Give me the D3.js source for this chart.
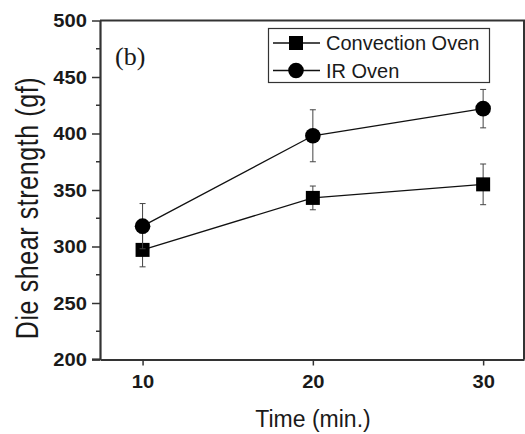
<!DOCTYPE html>
<html>
<head>
<meta charset="utf-8">
<script src="https://cdn.jsdelivr.net/npm/d3@7"></script>
<style>
  body { margin: 0; background: #fff; }
  svg { display: block; }
</style>
</head>
<body>
<div id="chart"></div>
<script>
// Data
const times = [10, 20, 30];
const convection = [297, 343, 355];
const convectionErr = [15, 10.5, 18];
const irOven = [318, 398, 422];
const irOvenErr = [20, 23, 17];
const yTicks = [200, 250, 300, 350, 400, 450, 500];
const yMinorTicks = [225, 275, 325, 375, 425, 475];
const xTicks = [10, 20, 30];

const width = 525, height = 434;
const ink = "#1a1a1a";

const svg = d3.select("#chart").append("svg")
    .attr("width", width)
    .attr("height", height);

const x = d3.scaleLinear().domain([7.5, 32.4]).range([100, 524]);
const y = d3.scaleLinear().domain([200, 500]).range([359.5, 20.5]);

// Frame (top and right edges)
svg.append("path")
    .attr("d", `M${x.range()[0]},${y(500)}H${x.range()[1]}V${y(200)}`)
    .attr("fill", "none")
    .attr("stroke", "#333")
    .attr("stroke-width", 2);

// Y axis
const yAxis = svg.append("g")
    .attr("transform", `translate(${x.range()[0]},0)`)
    .call(d3.axisLeft(y).tickValues(yTicks).tickSize(8).tickSizeOuter(0));

svg.append("g")
    .attr("transform", `translate(${x.range()[0]},0)`)
    .selectAll("line")
    .data(yMinorTicks)
    .enter()
    .append("line")
    .attr("x1", -4).attr("x2", 0)
    .attr("y1", d => y(d)).attr("y2", d => y(d))
    .attr("stroke", "#333")
    .attr("stroke-width", 1.5);

// X axis
const xAxis = svg.append("g")
    .attr("transform", `translate(0,${y(200)})`)
    .call(d3.axisBottom(x).tickValues(xTicks).tickSize(6).tickSizeOuter(0));

// Style both axes the same way
[yAxis, xAxis].forEach(ax => {
  ax.select(".domain").attr("stroke", "#333").attr("stroke-width", 2.2);
  ax.selectAll(".tick line").attr("stroke", "#333").attr("stroke-width", 1.5);
  ax.selectAll(".tick text")
      .attr("fill", ink)
      .style("font-family", "'Liberation Sans', Arial, sans-serif")
      .style("font-size", "18px")
      .style("font-weight", "bold");
});

// Tick labels look a bit wider than normal, stretch them a little
yAxis.selectAll(".tick text")
    .attr("x", -13 / 1.12)
    .attr("dy", "0.36em")
    .attr("transform", "scale(1.12,1)");
xAxis.selectAll(".tick text")
    .attr("y", 0)
    .attr("dy", 0)
    .attr("transform", "translate(0,28.5) scale(1.12,1)");

// Extend the bottom axis a bit to the left like the original
svg.append("line")
    .attr("x1", 92).attr("x2", x.range()[0])
    .attr("y1", y(200)).attr("y2", y(200))
    .attr("stroke", "#333")
    .attr("stroke-width", 2.2);

// Axis titles
svg.append("text")
    .attr("x", 313)
    .attr("y", 427)
    .attr("text-anchor", "middle")
    .attr("fill", ink)
    .style("font-family", "'Liberation Sans', Arial, sans-serif")
    .style("font-size", "23px")
    .text("Time (min.)");

svg.append("text")
    .attr("transform", "translate(38,208) rotate(-90) scale(1,1.25)")
    .attr("text-anchor", "middle")
    .attr("fill", ink)
    .style("font-family", "'Liberation Sans', Arial, sans-serif")
    .style("font-size", "25px")
    .style("letter-spacing", "0.6px")
    .text("Die shear strength (gf)");

// Panel label
svg.append("text")
    .attr("x", 115)
    .attr("y", 65)
    .attr("fill", ink)
    .style("font-family", "'Liberation Serif', 'Times New Roman', serif")
    .style("font-size", "26px")
    .text("(b)");

const series = [
  { name: "Convection Oven", values: convection, err: convectionErr, shape: "square" },
  { name: "IR Oven", values: irOven, err: irOvenErr, shape: "circle" }
];

const line = d3.line()
    .x((d, i) => x(times[i]))
    .y(d => y(d));

// Draw a marker at (cx, cy)
function drawMarker(g, shape, cx, cy) {
  if (shape === "square") {
    g.append("rect")
        .attr("x", cx - 7).attr("y", cy - 7)
        .attr("width", 14).attr("height", 14)
        .attr("fill", "#000");
  } else {
    g.append("circle")
        .attr("cx", cx).attr("cy", cy)
        .attr("r", 7.8)
        .attr("fill", "#000");
  }
}

series.forEach(s => {
  const g = svg.append("g");

  // Error bars
  s.values.forEach((v, i) => {
    const cx = x(times[i]);
    const lo = y(v - s.err[i]), hi = y(v + s.err[i]);
    g.append("line")
        .attr("x1", cx).attr("x2", cx)
        .attr("y1", lo).attr("y2", hi)
        .attr("stroke", "#444").attr("stroke-width", 1);
    [lo, hi].forEach(yy => {
      g.append("line")
          .attr("x1", cx - 3).attr("x2", cx + 3)
          .attr("y1", yy).attr("y2", yy)
          .attr("stroke", "#444").attr("stroke-width", 1);
    });
  });

  // Connecting line
  g.append("path")
      .datum(s.values)
      .attr("d", line)
      .attr("fill", "none")
      .attr("stroke", "#111")
      .attr("stroke-width", 1.3);

  // Markers
  s.values.forEach((v, i) => drawMarker(g, s.shape, x(times[i]), y(v)));
});

// Legend
const legend = svg.append("g");
legend.append("rect")
    .attr("x", 268.5).attr("y", 28.5)
    .attr("width", 221).attr("height", 54)
    .attr("fill", "#fff")
    .attr("stroke", "#333")
    .attr("stroke-width", 1.2);

series.forEach((s, i) => {
  const ly = 43 + i * 27.5;
  legend.append("line")
      .attr("x1", 273).attr("x2", 320)
      .attr("y1", ly).attr("y2", ly)
      .attr("stroke", "#111").attr("stroke-width", 1.3);
  drawMarker(legend, s.shape, 296, ly);
  legend.append("text")
      .attr("x", 326)
      .attr("y", ly + 7)
      .attr("fill", ink)
      .style("font-family", "'Liberation Sans', Arial, sans-serif")
      .style("font-size", "20px")
      .text(s.name);
});
</script>
</body>
</html>
